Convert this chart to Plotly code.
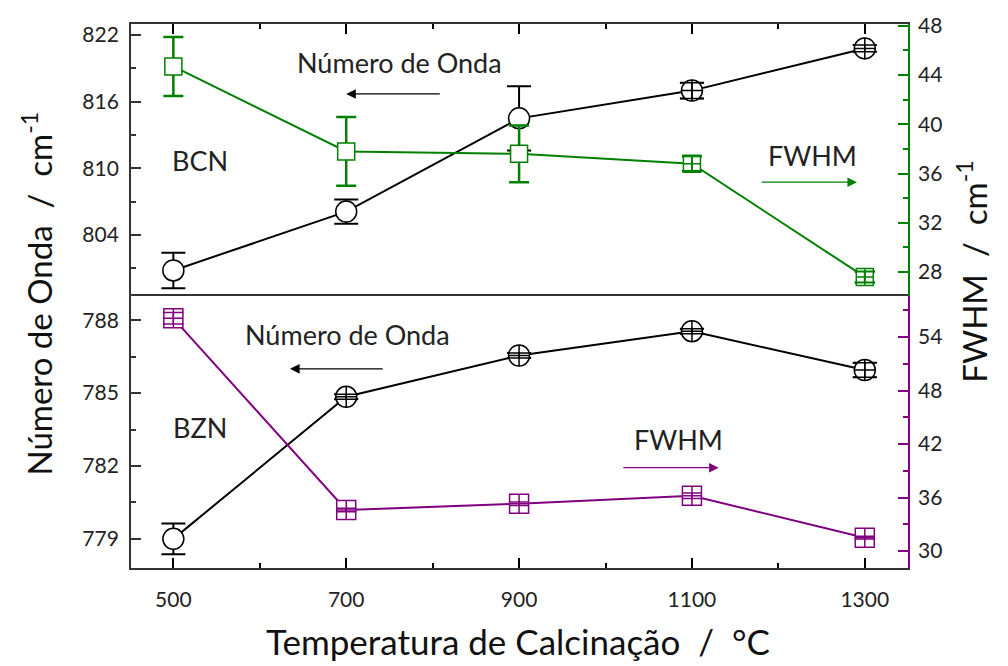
import plotly.graph_objects as go

# Calcination temperatures (°C)
temperatura = [500, 700, 900, 1100, 1300]

# BCN: wavenumber (cm-1) and FWHM (cm-1) with uncertainties
bcn_onda = [800.8, 806.1, 814.5, 817.0, 820.8]
bcn_onda_err = [1.6, 1.1, 2.9, 0.7, 0.3]
bcn_fwhm = [44.7, 37.8, 37.6, 36.8, 27.6]
bcn_fwhm_err = [2.4, 2.8, 2.3, 0.6, 0.45]

# BZN: wavenumber (cm-1) and FWHM (cm-1) with uncertainties
bzn_onda = [779.0, 784.85, 786.55, 787.55, 785.95]
bzn_onda_err = [0.63, 0.1, 0.1, 0.1, 0.3]
bzn_fwhm = [56.1, 34.6, 35.3, 36.2, 31.5]
bzn_fwhm_err = [0.65, 0.2, 0.2, 0.3, 0.15]

# Axis ranges
x_range = [451, 1350]
y_top_left = [798.5, 823.0]
y_top_right = [26.05, 48.15]
y_bot_left = [777.8, 789.0]
y_bot_right = [28.1, 58.6]

BLACK = "#000000"
GREEN = "#008000"
PURPLE = "#800080"
FONT = "Lato"

W, H = 1008, 666
M_L, M_R, M_T, M_B = 131, 100, 21, 98
PANEL_PX = (H - M_T - M_B) * 0.5

fig = go.Figure()


def add_series(x, y, err, xa, ya, yr, color, symbol, size, cap, thick):
    """Line+marker series; error bars that fit inside the marker are redrawn on top."""
    px_per_unit = PANEL_PX / (yr[1] - yr[0])
    inside = [e * px_per_unit < size / 2 for e in err]
    symbols = [symbol + "-cross" if i else symbol for i in inside]
    fig.add_trace(go.Scatter(
        x=x, y=y, xaxis=xa, yaxis=ya, mode="lines+markers",
        line=dict(color=color, width=2),
        marker=dict(symbol=symbols, size=size, color="white",
                    line=dict(color=color, width=1.5)),
        error_y=dict(type="data", array=err, visible=True, color=color,
                     thickness=thick, width=cap),
        showlegend=False, hoverinfo="skip",
    ))
    fig.add_trace(go.Scatter(
        x=[xi for xi, i in zip(x, inside) if i],
        y=[yi for yi, i in zip(y, inside) if i],
        xaxis=xa, yaxis=ya, mode="markers",
        marker=dict(size=1, opacity=0),
        error_y=dict(type="data",
                     array=[e for e, i in zip(err, inside) if i],
                     visible=True, color=color, thickness=thick - 0.5, width=cap),
        showlegend=False, hoverinfo="skip",
    ))


add_series(temperatura, bcn_onda, bcn_onda_err, "x2", "y3", y_top_left,
           BLACK, "circle", 21, 12, 2)
add_series(temperatura, bcn_fwhm, bcn_fwhm_err, "x2", "y4", y_top_right,
           GREEN, "square", 17, 10, 2.5)
add_series(temperatura, bzn_onda, bzn_onda_err, "x", "y", y_bot_left,
           BLACK, "circle", 21, 12, 2)
add_series(temperatura, bzn_fwhm, bzn_fwhm_err, "x", "y2", y_bot_right,
           PURPLE, "square", 19, 10, 2)

tickfont = dict(family=FONT, size=21, color="#222222")
AXIS_LINE = "#333333"


def xaxis(mirror, **kw):
    return dict(range=x_range, tick0=500, dtick=200, ticks="inside", ticklen=10,
                tickwidth=1.5, tickcolor=BLACK, showline=True, linecolor=AXIS_LINE,
                linewidth=1.8, mirror=mirror, showgrid=False, zeroline=False,
                minor=dict(ticks="inside", dtick=100, tick0=500, ticklen=5,
                           tickwidth=1.5, tickcolor=BLACK), **kw)


def yaxis(rng, tick0, dtick, minor, color, side, **kw):
    return dict(range=rng, tick0=tick0, dtick=dtick, ticks="inside", ticklen=10,
                tickwidth=1.5, tickcolor=color, showline=True, linecolor=color,
                linewidth=1.8, showgrid=False, zeroline=False, side=side,
                tickfont=tickfont,
                minor=dict(ticks="inside", dtick=minor, tick0=tick0, ticklen=5,
                           tickwidth=1.5, tickcolor=color), **kw)


fig.update_layout(
    width=W, height=H,
    margin=dict(l=M_L, r=M_R, t=M_T, b=M_B),
    paper_bgcolor="white", plot_bgcolor="white",
    font=dict(family=FONT, color="#222222"),
    # bottom panel x axis; its mirrored line is the divider between panels
    xaxis=xaxis(True, anchor="y", domain=[0, 1], tickfont=tickfont,
                ticklabelstandoff=12),
    # top panel x axis: ticks along the top edge only
    xaxis2=xaxis(False, anchor="y3", domain=[0, 1], side="top",
                 showticklabels=False, matches="x"),
    yaxis=yaxis(y_bot_left, 779, 3, 1.5, AXIS_LINE, "left", domain=[0, 0.5],
                anchor="x", ticklabelstandoff=6),
    yaxis2=yaxis(y_bot_right, 30, 6, 3, PURPLE, "right", overlaying="y",
                 anchor="x", ticklabelstandoff=4),
    yaxis3=yaxis(y_top_left, 804, 6, 3, AXIS_LINE, "left", domain=[0.5, 1],
                 anchor="x2", ticklabelstandoff=6),
    yaxis4=yaxis(y_top_right, 28, 4, 2, GREEN, "right", overlaying="y3",
                 anchor="x2", ticklabelstandoff=4),
)

label_font = dict(family=FONT, size=27, color="#222222")
title_font = dict(family=FONT, size=33, color="#111111")
C = dict(xanchor="center", yanchor="middle", showarrow=False)
annotations = [
    # panel labels
    dict(text="BCN", x=531, y=810.7, xref="x2", yref="y3", font=label_font, **C),
    dict(text="BZN", x=531, y=783.57, xref="x", yref="y", font=label_font, **C),
    # wavenumber hints (left axis)
    dict(text="Número de Onda", x=762, y=819.5, xref="x2", yref="y3",
         font=label_font, **C),
    dict(text="", x=700, y=816.7, ax=810, ay=816.7, xref="x2", yref="y3",
         axref="x2", ayref="y3", showarrow=True, arrowhead=2, arrowsize=1.6,
         arrowwidth=1.2, arrowcolor=BLACK),
    dict(text="Número de Onda", x=702, y=787.4, xref="x", yref="y",
         font=label_font, **C),
    dict(text="", x=635, y=786.0, ax=744, ay=786.0, xref="x", yref="y",
         axref="x", ayref="y", showarrow=True, arrowhead=2, arrowsize=1.6,
         arrowwidth=1.2, arrowcolor=BLACK),
    # FWHM hints (right axis)
    dict(text="FWHM", x=1239, y=811.2, xref="x2", yref="y3",
         font=label_font, **C),
    dict(text="", x=1291, y=808.75, ax=1179, ay=808.75, xref="x2", yref="y3",
         axref="x2", ayref="y3", showarrow=True, arrowhead=2, arrowsize=1.6,
         arrowwidth=1.2, arrowcolor=GREEN),
    dict(text="FWHM", x=1084, y=783.1, xref="x", yref="y",
         font=label_font, **C),
    dict(text="", x=1131, y=781.93, ax=1019, ay=781.93, xref="x", yref="y",
         axref="x", ayref="y", showarrow=True, arrowhead=2, arrowsize=1.6,
         arrowwidth=1.2, arrowcolor=PURPLE),
    # axis titles
    dict(text="Número de Onda  /  cm<sup>-1</sup>", x=-0.1197, y=0.5046,
         xref="paper", yref="paper", textangle=-90, font=title_font, **C),
    dict(text="FWHM  /  cm<sup>-1</sup>", x=1.0824, y=0.5448,
         xref="paper", yref="paper", textangle=-90, font=title_font, **C),
    dict(text="Temperatura de Calcinação  /  °C", x=0.498, y=-0.1335,
         xref="paper", yref="paper", font=dict(title_font, size=35), **C),
]
fig.update_layout(annotations=annotations)

fig.write_html("out.html")
